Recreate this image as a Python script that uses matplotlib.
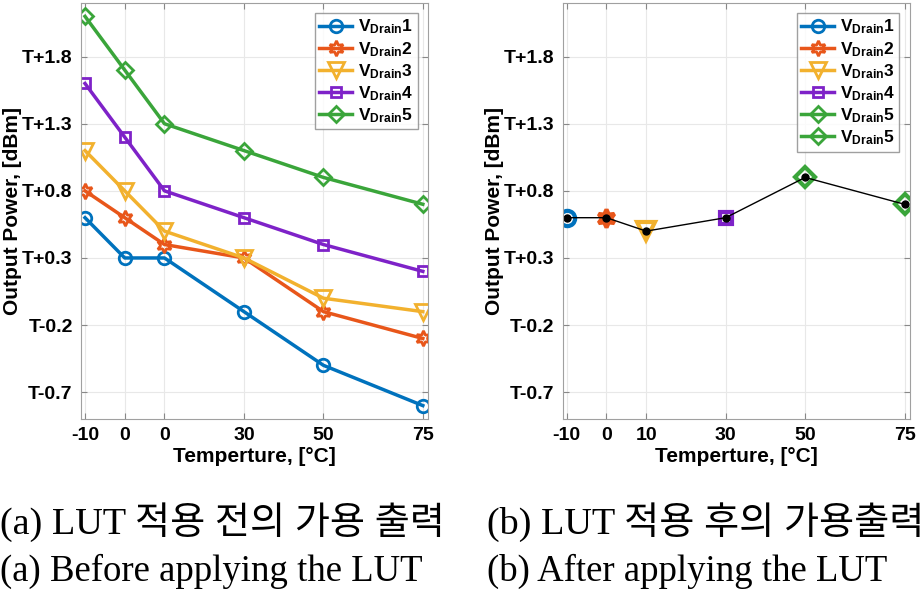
import matplotlib
matplotlib.use('Agg')
import matplotlib.pyplot as plt

plt.rcParams['font.family'] = ['Liberation Sans', 'DejaVu Sans']
plt.rcParams['mathtext.fontset'] = 'custom'
plt.rcParams['mathtext.rm'] = 'Liberation Sans'
plt.rcParams['mathtext.bf'] = 'Liberation Sans:bold'

# temperatures (deg C)
temps = [-10, 0, 10, 30, 50, 75]
temp_labels_a = ['-10', '0', '0', '30', '50', '75']
temp_labels_b = ['-10', '0', '10', '30', '50', '75']

# output power relative to T [dBm], before LUT
v_drain1 = [0.6, 0.3, 0.3, -0.1, -0.5, -0.8]
v_drain2 = [0.8, 0.6, 0.4, 0.3, -0.1, -0.3]
v_drain3 = [1.1, 0.8, 0.5, 0.3, 0.0, -0.1]
v_drain4 = [1.6, 1.2, 0.8, 0.6, 0.4, 0.2]
v_drain5 = [2.1, 1.7, 1.3, 1.1, 0.9, 0.7]

# after LUT: one selected drain voltage per temperature
lut_power = [0.6, 0.6, 0.5, 0.6, 0.9, 0.7]
lut_series = [0, 1, 2, 3, 4, 4]

yticks = [-0.7, -0.2, 0.3, 0.8, 1.3, 1.8]
ytick_labels = ['T-0.7', 'T-0.2', 'T+0.3', 'T+0.8', 'T+1.3', 'T+1.8']

colors = ['#0072BD', '#E8561A', '#F2B12E', '#7E22C8', '#3AA53A']
markers = ['o', (6, 1, 0), 'v', 's', 'D']
msizes = [9, 11, 11, 7, 8]
names = [r'$\mathbf{V_{Drain}}$%d' % (i + 1) for i in range(5)]
series = [v_drain1, v_drain2, v_drain3, v_drain4, v_drain5]

fig = plt.figure(figsize=(9.24, 5.91), dpi=100)
ax1 = fig.add_axes([0.0877, 0.291, 0.3755, 0.704])
ax2 = fig.add_axes([0.609, 0.291, 0.3755, 0.704])


def style_axes(ax, xlabels):
    ax.set_xlim(-11, 76.3)
    ax.set_ylim(-0.9, 2.2)
    ax.set_xticks(temps)
    ax.set_xticklabels(xlabels)
    ax.set_yticks(yticks)
    ax.set_yticklabels(ytick_labels)
    ax.tick_params(direction='in', top=True, right=True, length=4, color='#888888',
                   labelsize=14, pad=6)
    for lab in ax.get_xticklabels() + ax.get_yticklabels():
        lab.set_fontweight('bold')
    ax.grid(True, color='#e8e8e8', linewidth=0.8)
    for sp in ax.spines.values():
        sp.set_color('#a0a0a0')
    ax.set_xlabel('Temperture, [°C]', fontsize=15, fontweight='bold', labelpad=2)
    ax.set_ylabel('Output Power, [dBm]', fontsize=15, fontweight='bold')
    ax.yaxis.set_label_coords(-0.17, 0.5)


leg_kw = dict(loc='upper right', prop={'size': 12.5, 'weight': 'bold'}, fancybox=False,
              edgecolor='#888888', handlelength=1.9, borderpad=0.25, labelspacing=0.2,
              handletextpad=0.35, borderaxespad=0.6)

# (a) before LUT
for i, ys in enumerate(series):
    ax1.plot(temps, ys, color=colors[i], marker=markers[i], ms=msizes[i],
             mfc='none', mew=2, lw=2.5, label=names[i])
style_axes(ax1, temp_labels_a)
leg = ax1.legend(**leg_kw)
leg.get_frame().set_linewidth(1)

# (b) after LUT
handles = []
for i in range(5):
    h, = ax2.plot([], [], color=colors[i], marker=markers[i], ms=msizes[i],
                  mfc='none', mew=2, lw=2.5, label=names[i])
    handles.append(h)
for t, p, s in zip(temps, lut_power, lut_series):
    ax2.plot([t], [p], color=colors[s], marker=markers[s], ms=msizes[s] + 2,
             mfc='none', mew=3, ls='none')
ax2.plot(temps, lut_power, color='black', lw=1, marker='o', ms=5)
style_axes(ax2, temp_labels_b)
leg2 = ax2.legend(handles + [handles[4]], names + [names[4]], **leg_kw)
leg2.get_frame().set_linewidth(1)

# captions
cap_font = ['Liberation Serif', 'Noto Sans CJK KR']
fig.text(0.0, 0.117, '(a) LUT 적용 전의 가용 출력', family=cap_font, fontsize=27.5, va='center')
fig.text(0.527, 0.117, '(b) LUT 적용 후의 가용출력', family=cap_font, fontsize=27.5, va='center')
fig.text(0.0, 0.034, '(a) Before applying the LUT', family=cap_font, fontsize=26.5, va='center')
fig.text(0.527, 0.034, '(b) After applying the LUT', family=cap_font, fontsize=26.5, va='center')

fig.savefig('out.png', dpi=100)
